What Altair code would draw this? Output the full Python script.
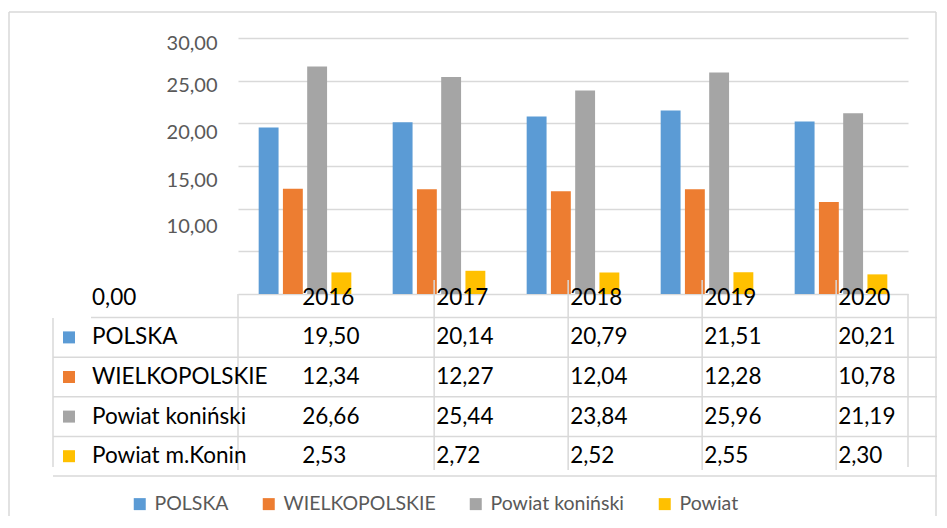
import altair as alt
import pandas as pd

# ---- data ----
years = ["2016", "2017", "2018", "2019", "2020"]
series = ["POLSKA", "WIELKOPOLSKIE", "Powiat koniński", "Powiat m.Konin"]
polska = [19.50, 20.14, 20.79, 21.51, 20.21]
wielkopolskie = [12.34, 12.27, 12.04, 12.28, 10.78]
powiat_koninski = [26.66, 25.44, 23.84, 25.96, 21.19]
powiat_m_konin = [2.53, 2.72, 2.52, 2.55, 2.30]
y_ticks = [0, 5, 10, 15, 20, 25, 30]
header_label = "0,00"
legend_short = "Powiat"

colors = ["#5B9BD5", "#ED7D31", "#A5A5A5", "#FFC000"]
LINE = "#D9D9D9"
FONT = "Lato"

values = [polska, wielkopolskie, powiat_koninski, powiat_m_konin]
df = pd.DataFrame(
    [{"year": y, "series": s, "row": s, "value": v[i]}
     for s, v in zip(series, values) for i, y in enumerate(years)]
)
rows = ["header"] + series
df_years = pd.DataFrame({"year": years, "row": ["header"] * len(years)})
df_names = pd.DataFrame({"row": rows, "text": [header_label] + series})
df_keys = pd.DataFrame({"row": series, "series": series})
df_one = pd.DataFrame({"k": [0]})

X = alt.Scale(domain=years, paddingInner=0.276, paddingOuter=0.138)
YT = alt.Scale(domain=rows, range=[240, 438], paddingInner=0, paddingOuter=0)
CS = alt.Scale(domain=series, range=colors)

legend = alt.Legend(
    title=None, orient="none", legendX=-108, legendY=456, direction="horizontal",
    symbolType="square", symbolSize=144, symbolStrokeWidth=0,
    labelFont=FONT, labelFontSize=19.5, labelColor="#595959", labelOffset=5,
    columnPadding=30, labelLimit=400,
    labelExpr=f"datum.label == 'Powiat m.Konin' ? '{legend_short}' : datum.label",
)

yaxis = alt.Axis(
    values=y_ticks, title=None, ticks=False, domain=False,
    grid=True, gridColor=LINE, gridWidth=1.5,
    labelExpr="datum.value < 10 ? '' : replace(format(datum.value, '.2f'), '.', ',')",
    labelFont=FONT, labelFontSize=20, labelColor="#595959", labelPadding=21,
    labelOffset={
        "condition": [
            {"test": "datum.value == 30", "value": 5},
            {"test": "datum.value == 25", "value": 5},
            {"test": "datum.value == 20", "value": 9},
            {"test": "datum.value == 15", "value": 14},
        ],
        "value": 18,
    },
)

bars = alt.Chart(df).mark_bar().encode(
    x=alt.X("year:N", scale=X, axis=None),
    xOffset=alt.XOffset("series:N", scale=alt.Scale(domain=series, paddingInner=0.18, paddingOuter=0.09)),
    y=alt.Y("value:Q", scale=alt.Scale(domain=[0, 30], nice=False), axis=yaxis),
    color=alt.Color("series:N", scale=CS, legend=legend),
)

tfont = dict(font=FONT, fontSize=22.5, color="black", baseline="middle")

vals = alt.Chart(df).transform_calculate(
    label="replace(format(datum.value, '.2f'), '.', ',')"
).mark_text(align="left", dx=2, **tfont).encode(
    x=alt.X("year:N", scale=X, bandPosition=0.45, axis=None),
    y=alt.Y("row:N", scale=YT, axis=None),
    text="label:N",
)

hdr = alt.Chart(df_years).mark_text(align="left", dx=2, **tfont).encode(
    x=alt.X("year:N", scale=X, bandPosition=0.45, axis=None),
    y=alt.Y("row:N", scale=YT, axis=None),
    text="year:N",
)

names = alt.Chart(df_names).mark_text(align="left", **tfont).encode(
    x=alt.value(-146),
    y=alt.Y("row:N", scale=YT, axis=None),
    text="text:N",
)

keys = alt.Chart(df_keys).mark_square(size=144, opacity=1).encode(
    x=alt.value(-169),
    y=alt.Y("row:N", scale=YT, axis=None),
    color=alt.Color("series:N", scale=CS, legend=legend),
)

rule = dict(color=LINE, strokeWidth=1.5)

hl_rows = alt.Chart(df_keys).mark_rule(**rule).encode(
    y=alt.Y("row:N", scale=YT, bandPosition=1, axis=None),
    x=alt.value(-185), x2=alt.value(699),
)
hl_hdr = alt.Chart(df_years.head(1)).mark_rule(**rule).encode(
    y=alt.Y("row:N", scale=YT, bandPosition=1, axis=None),
    x=alt.value(-147), x2=alt.value(699),
)
vl_years = alt.Chart(pd.DataFrame({"year": years[1:]})).mark_rule(**rule).encode(
    x=alt.X("year:N", scale=X, bandPosition=0.45, axis=None),
    y=alt.value(242), y2=alt.value(432),
)
vl_left = alt.Chart(df_one).mark_rule(**rule).encode(x=alt.value(0), y=alt.value(256), y2=alt.value(432))
vl_right = alt.Chart(df_one).mark_rule(**rule).encode(x=alt.value(670), y=alt.value(256), y2=alt.value(429))
vl_key = alt.Chart(df_one).mark_rule(**rule).encode(x=alt.value(-185), y=alt.value(280), y2=alt.value(429))

b_left = alt.Chart(df_one).mark_rule(**rule).encode(x=alt.value(-229), y=alt.value(-26), y2=alt.value(478))
b_top = alt.Chart(df_one).mark_rule(**rule).encode(y=alt.value(-26), x=alt.value(-229), x2=alt.value(698))
b_right = alt.Chart(df_one).mark_rule(**rule).encode(x=alt.value(698), y=alt.value(-26), y2=alt.value(478))

chart = alt.layer(
    b_left, b_top, b_right,
    bars,
    hl_rows, hl_hdr, vl_years, vl_left, vl_right, vl_key,
    keys, names, hdr, vals,
).resolve_scale(y="independent").properties(
    width=670, height=256,
    padding={"left": 0, "top": 3, "right": 0, "bottom": 0},
    background="white",
).configure_view(strokeWidth=0)

chart.save("out.html", embed_options={"renderer": "svg", "actions": False})
